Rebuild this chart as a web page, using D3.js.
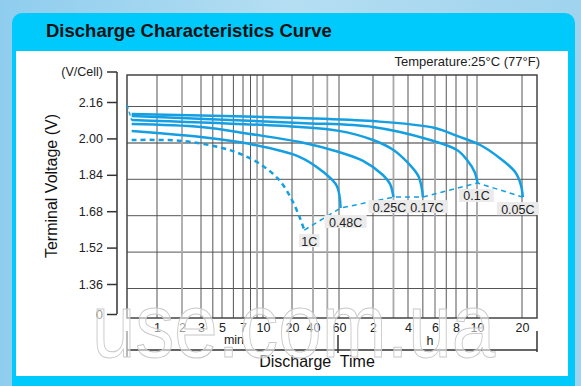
<!DOCTYPE html>
<html>
<head>
<meta charset="utf-8">
<script src="https://cdnjs.cloudflare.com/ajax/libs/d3/7.8.5/d3.min.js"></script>
<style>
  html, body { margin: 0; padding: 0; background: #a9d8f0; }
  svg { display: block; font-family: 'Liberation Sans', Arial, sans-serif; }
</style>
</head>
<body>
<svg id="chart" width="581" height="386"></svg>
<script>
// discharge time is kept in minutes, voltage in V/cell
const xTickMinutes = [1, 2, 3, 5, 7, 10, 20, 40, 60, 120, 240, 360, 480, 600, 1200];
const xTickLabels = ['1', '2', '3', '5', '7', '10', '20', '40', '60', '2', '4', '6', '8', '10', '20'];
const xMinorMinutes = [4, 6, 8, 9, 50, 180, 300, 420, 540];
const xGreyMinutes = [2, 9, 40, 50, 180, 360, 600];
const yTicks = [2.16, 2.00, 1.84, 1.68, 1.52, 1.36, 0];
const yGridTicks = [2.16, 2.00, 1.84, 1.68, 1.52, 1.36];

const rateNames = ['1C', '0.48C', '0.25C', '0.17C', '0.1C', '0.05C'];
const curve1C = [[0.5, 1.993], [2, 1.989], [5, 1.958], [7, 1.927], [10, 1.879], [15, 1.813], [20, 1.729], [26, 1.650], [30, 1.597]];
const curve048C = [[0.5, 2.033], [1, 2.024], [3, 2.006], [8, 1.975], [26, 1.918], [47, 1.852], [58, 1.791], [62, 1.694]];
const curve025C = [[0.5, 2.063], [3, 2.050], [8, 2.019], [26, 1.984], [60, 1.940], [98, 1.901], [146, 1.839], [168, 1.800], [180, 1.742]];
const curve017C = [[0.5, 2.081], [26, 2.050], [60, 2.033], [120, 1.993], [180, 1.949], [240, 1.892], [280, 1.835], [295, 1.782], [300, 1.742]];
const curve01C = [[0.5, 2.098], [26, 2.068], [120, 2.050], [335, 1.993], [485, 1.949], [540, 1.905], [585, 1.852], [605, 1.804]];
const curve005C = [[0.5, 2.107], [26, 2.090], [120, 2.076], [360, 2.046], [485, 2.011], [630, 1.971], [850, 1.914], [1080, 1.852], [1180, 1.795], [1215, 1.742]];
const startPoints = [[0.44, 2.147], [0.5, 2.08]];

const curves = [curve1C, curve048C, curve025C, curve017C, curve01C, curve005C];

// layout
const plot = { left: 127, top: 75, right: 537, bottom: 318 };
const blue = '#149fe2';
// the time axis in the source is drawn unevenly, so the log scale is piecewise
const xBreaks = [0.44].concat(xTickMinutes, [1500]);
const xBreakPos = [0, 30, 55, 74, 95, 116, 136, 165, 186, 212, 246, 281, 308, 329, 350, 395, 410];
const labelOffsets = [[5, 11], [5, 14], [-4, 10], [4, 10], [-1, 13], [-5, 12]];

const svg = d3.select('#chart');

const bg = svg.append('defs').append('linearGradient')
  .attr('id', 'bg').attr('x1', 0).attr('y1', 0).attr('x2', 1).attr('y2', 0);
bg.append('stop').attr('offset', '0%').attr('stop-color', '#8fcdee');
bg.append('stop').attr('offset', '50%').attr('stop-color', '#b5def2');
bg.append('stop').attr('offset', '100%').attr('stop-color', '#9fd3ee');

svg.append('rect').attr('width', 581).attr('height', 386).attr('fill', 'url(#bg)');

// panel
svg.append('rect')
  .attr('x', 12).attr('y', 13).attr('width', 563).attr('height', 390)
  .attr('rx', 10).attr('fill', '#00c9fc');
svg.append('rect')
  .attr('x', 16).attr('y', 51).attr('width', 552).attr('height', 325)
  .attr('fill', '#ffffff');

svg.append('text')
  .attr('x', 46).attr('y', 37)
  .attr('font-size', '18.5px').attr('font-weight', 'bold').attr('fill', '#111')
  .text('Discharge Characteristics Curve');

svg.append('text')
  .attr('x', 540).attr('y', 66)
  .attr('text-anchor', 'end').attr('font-size', '13px').attr('fill', '#222')
  .text('Temperature:25\u00B0C (77\u00B0F)');

const xScale = d3.scaleLog()
  .domain(xBreaks)
  .range(xBreakPos.map(p => plot.left + p));

const yScale = d3.scaleLinear()
  .domain([0, 1.36, 2.16])
  .range([314, 284, 102]);

// grid
const grid = svg.append('g');
const gridOffset = 4.5;

grid.selectAll('.hgrid')
  .data(yGridTicks)
  .enter()
  .append('line')
  .attr('class', 'hgrid')
  .attr('x1', plot.left).attr('x2', plot.right)
  .attr('y1', d => yScale(d) + gridOffset)
  .attr('y2', d => yScale(d) + gridOffset)
  .attr('stroke', d => (d === 2.00 ? '#9a9a9a' : '#555'))
  .attr('stroke-width', d => (d === 2.00 ? 2 : 1));

const vgrid = xTickMinutes.concat(xMinorMinutes);
grid.selectAll('.vgrid')
  .data(vgrid)
  .enter()
  .append('line')
  .attr('class', 'vgrid')
  .attr('x1', d => xScale(d)).attr('x2', d => xScale(d))
  .attr('y1', plot.top).attr('y2', plot.bottom)
  .attr('stroke', d => (xGreyMinutes.includes(d) ? '#a8a8a8' : '#555'))
  .attr('stroke-width', d => (xGreyMinutes.includes(d) ? 1.8 : 1));

grid.append('rect')
  .attr('x', plot.left).attr('y', plot.top)
  .attr('width', plot.right - plot.left).attr('height', plot.bottom - plot.top)
  .attr('fill', 'none').attr('stroke', '#444').attr('stroke-width', 1.5);

// y axis
const yAxis = svg.append('g')
  .attr('transform', 'translate(117,0)')
  .call(d3.axisLeft(yScale)
    .tickValues(yTicks)
    .tickSize(10)
    .tickPadding(4)
    .tickFormat(d => (d === 0 ? '0' : d.toFixed(2))));
yAxis.select('.domain').remove();
yAxis.selectAll('line').attr('stroke', '#333').attr('stroke-width', 1.5);
yAxis.selectAll('text').attr('font-size', '12.5px').attr('fill', '#222')
  .attr('font-family', "'Liberation Sans', Arial, sans-serif");

svg.append('line')
  .attr('x1', 117).attr('x2', 117).attr('y1', 72).attr('y2', 314)
  .attr('stroke', '#333').attr('stroke-width', 1.5);
svg.append('line')
  .attr('x1', 107).attr('x2', 117).attr('y1', 72).attr('y2', 72)
  .attr('stroke', '#333').attr('stroke-width', 1.5);
svg.append('text')
  .attr('x', 103).attr('y', 76)
  .attr('text-anchor', 'end').attr('font-size', '12.5px').attr('fill', '#222')
  .text('(V/Cell)');

svg.append('text')
  .attr('transform', 'translate(57,186) rotate(-90)')
  .attr('text-anchor', 'middle').attr('font-size', '16px').attr('fill', '#111')
  .text('Terminal Voltage (V)');

// x axis
const xAxis = svg.append('g')
  .attr('transform', `translate(0,${plot.bottom})`)
  .call(d3.axisBottom(xScale)
    .tickValues(xTickMinutes)
    .tickSize(0)
    .tickPadding(5)
    .tickFormat((d, i) => xTickLabels[i]));
xAxis.select('.domain').remove();
xAxis.selectAll('text').attr('font-size', '12.5px').attr('fill', '#222')
  .attr('font-family', "'Liberation Sans', Arial, sans-serif");

const bracket = svg.append('g').attr('stroke', '#333').attr('stroke-width', 1.5);
bracket.append('line')
  .attr('x1', plot.left).attr('x2', plot.right).attr('y1', 350).attr('y2', 350);
bracket.append('line')
  .attr('x1', plot.left).attr('x2', plot.left).attr('y1', 331).attr('y2', 357);
bracket.append('line')
  .attr('x1', plot.right).attr('x2', plot.right).attr('y1', 331).attr('y2', 352);
bracket.append('line')
  .attr('x1', xScale(60) - 1).attr('x2', xScale(60) - 1).attr('y1', 335).attr('y2', 353);

svg.append('text')
  .attr('x', 234).attr('y', 344).attr('text-anchor', 'middle')
  .attr('font-size', '12.5px').attr('fill', '#222').text('min');
svg.append('text')
  .attr('x', 430).attr('y', 345).attr('text-anchor', 'middle')
  .attr('font-size', '12.5px').attr('fill', '#222').text('h');

svg.append('text')
  .attr('x', 317).attr('y', 367).attr('text-anchor', 'middle')
  .attr('font-size', '16px').attr('fill', '#111')
  .attr('xml:space', 'preserve')
  .text('Discharge  Time');

// curves
const line = d3.line()
  .x(d => xScale(d[0]))
  .y(d => yScale(d[1]))
  .curve(d3.curveCatmullRom.alpha(0.5));

svg.selectAll('.curve')
  .data(curves)
  .enter()
  .append('path')
  .attr('class', 'curve')
  .attr('d', line)
  .attr('fill', 'none')
  .attr('stroke', blue)
  .attr('stroke-width', 2.5)
  .attr('stroke-dasharray', (d, i) => (i === 0 ? '5,4' : null));

const straight = d3.line()
  .x(d => xScale(d[0]))
  .y(d => yScale(d[1]));

const endPoints = curves.map(c => c[c.length - 1]);
svg.append('path')
  .attr('d', straight(endPoints))
  .attr('fill', 'none').attr('stroke', blue)
  .attr('stroke-width', 1.5).attr('stroke-dasharray', '5,4');

svg.append('path')
  .attr('d', straight(startPoints))
  .attr('fill', 'none').attr('stroke', blue)
  .attr('stroke-width', 1.5).attr('stroke-dasharray', '4,3');

// rate labels
const labels = svg.selectAll('.rate')
  .data(endPoints)
  .enter()
  .append('g')
  .attr('class', 'rate')
  .attr('transform', (d, i) =>
    `translate(${xScale(d[0]) + labelOffsets[i][0]},${yScale(d[1]) + labelOffsets[i][1]})`);

labels.append('rect')
  .attr('x', (d, i) => -rateNames[i].length * 3.6 - 3)
  .attr('y', -7)
  .attr('width', (d, i) => rateNames[i].length * 7.2 + 6)
  .attr('height', 13)
  .attr('fill', '#ebebeb');

labels.append('text')
  .attr('text-anchor', 'middle')
  .attr('y', 4.5)
  .attr('font-size', '12.5px')
  .attr('fill', '#222')
  .text((d, i) => rateNames[i]);

// watermark
svg.append('text')
  .attr('x', 92).attr('y', 357)
  .attr('font-size', '90px')
  .attr('textLength', 403).attr('lengthAdjust', 'spacingAndGlyphs')
  .attr('fill', '#ffffff').attr('fill-opacity', 0.55)
  .attr('stroke', '#c9c9c9').attr('stroke-width', 1)
  .text('use.com.ua');
</script>
</body>
</html>
